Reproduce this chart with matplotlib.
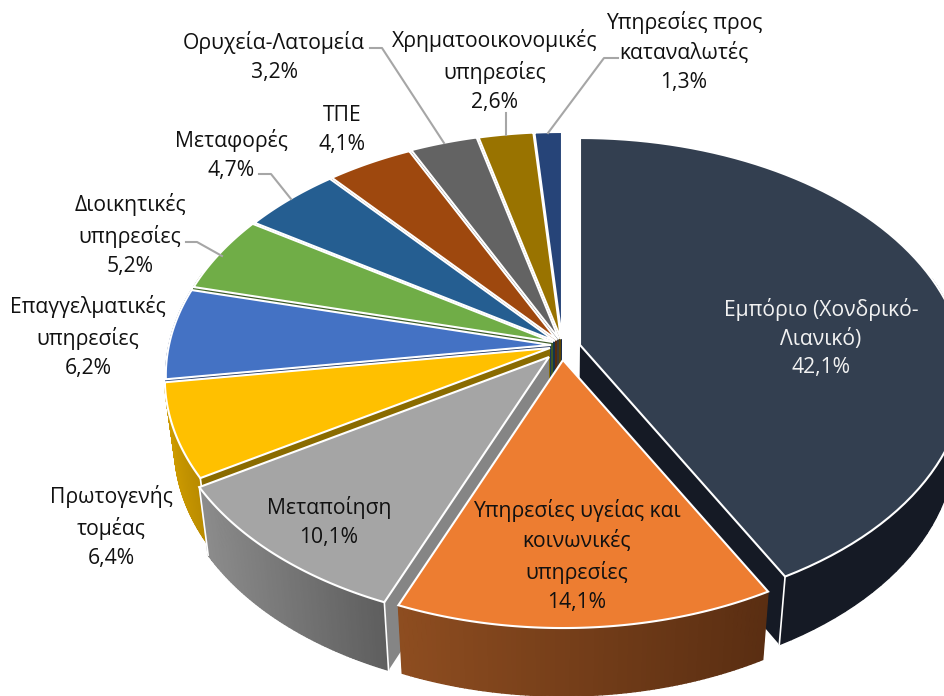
import numpy as np
import matplotlib
matplotlib.use("Agg")
import matplotlib.pyplot as plt
from matplotlib.colors import to_rgb

# data
names = ["Εμπόριο (Χονδρικό-\nΛιανικό)", "Υπηρεσίες υγείας και\nκοινωνικές\nυπηρεσίες", "Μεταποίηση",
         "Πρωτογενής\nτομέας", "Επαγγελματικές\nυπηρεσίες", "Διοικητικές\nυπηρεσίες", "Μεταφορές",
         "ΤΠΕ", "Ορυχεία-Λατομεία", "Χρηματοοικονομικές\nυπηρεσίες", "Υπηρεσίες προς\nκαταναλωτές"]
values = [42.1, 14.1, 10.1, 6.4, 6.2, 5.2, 4.7, 4.1, 3.2, 2.6, 1.3]
value_labels = ["42,1%", "14,1%", "10,1%", "6,4%", "6,2%", "5,2%", "4,7%", "4,1%", "3,2%", "2,6%", "1,3%"]

top_colors = ["#333F50", "#ED7D31", "#A5A5A5", "#FFC000", "#4472C4", "#70AD47",
              "#255E91", "#9E480E", "#636363", "#997300", "#264478"]
wall_left = ["#151A25", "#8E4D20", "#8C8C8C", "#CC9A00", "#2C4A80", "#4A7030",
             "#183D60", "#5E2A08", "#3C3C3C", "#5C4500", "#16284A"]
wall_right = ["#151A25", "#5A2E12", "#5E5E5E", "#B88A00", "#2C4A80", "#4A7030",
              "#183D60", "#5E2A08", "#3C3C3C", "#5C4500", "#16284A"]
side_colors = ["#151A25", "#5A2E12", "#858585", "#8A6B00", "#1E3560", "#3B5A26",
               "#16324E", "#5A2C0C", "#3A3A3A", "#5C4500", "#16284A"]
# shift of each slice's tip in pixels
shifts = [(27, 3), (10, 18), (-4, 15), (-3, 6), (-2, 3), (0, 0),
          (2, -1), (4, -2), (6, -3), (8, -3), (9, -3)]
label_pos = [(821, 338), (577, 556), (329, 522), (111, 527), (88, 337), (130, 235),
             (231, 155), (342, 130), (274, 57), (495, 71), (684, 52)]
label_colors = ["#F2F2F2"] + ["#111111"] * 10

CX, CY = 553, 342
RX, RY, K = 382, 233.6, 0.1285
DEPTH, SHRINK = 68, 0.975

plt.rcParams["font.family"] = ["Open Sans", "DejaVu Sans"]


def project(angle, dx, dy, radius=1.0):
    # angle in degrees, clockwise from 12 o'clock
    a = np.radians(angle)
    u = radius * np.sin(a)
    v = radius * np.cos(a)
    w = 1 + K * v
    return CX + dx + RX * u / w, CY + dy - RY * v / w


def lower(x, y):
    return CX + SHRINK * (np.asarray(x) - CX), np.asarray(y) + DEPTH


def mix(c1, c2, t):
    a, b = np.array(to_rgb(c1)), np.array(to_rgb(c2))
    return tuple(a + (b - a) * t)


fig = plt.figure(figsize=(9.44, 6.96), dpi=100)
ax = fig.add_axes([0, 0, 1, 1])
ax.set_xlim(0, 944)
ax.set_ylim(696, 0)
ax.axis("off")

edges = np.concatenate([[0], np.cumsum(values) / np.sum(values) * 360])
draw_order = [10, 9, 8, 7, 6, 5, 4, 3, 2, 0, 1]
white_corners = {(0, -1), (2, 0), (2, -1), (3, 0)}

for i in draw_order:
    dx, dy = shifts[i]
    th = np.linspace(edges[i], edges[i + 1], 80)
    rx, ry = project(th, dx, dy)
    ax_, ay_ = CX + dx, CY + dy
    lrx, lry = lower(rx, ry)
    lax, lay = lower(ax_, ay_)

    # inner walls (the first slice's start wall faces away)
    for k in (0, -1):
        if (i, k) == (0, 0):
            continue
        ax.fill([ax_, rx[k], lrx[k], lax], [ay_, ry[k], lry[k], lay],
                color=side_colors[i], lw=0, zorder=1)
    # outer wall, split in strips for the gradient, back part is hidden anyway
    xmin, xmax = rx.min(), rx.max()
    for j in range(len(th) - 1):
        if np.cos(np.radians(th[j])) > 0.3:
            continue
        t = (rx[j] - xmin) / max(xmax - xmin, 1)
        c = mix(wall_left[i], wall_right[i], t)
        ax.fill([rx[j], rx[j + 1], lrx[j + 1], lrx[j]], [ry[j], ry[j + 1], lry[j + 1], lry[j]],
                color=c, lw=1.0, zorder=1)
    # white corners
    for k in (0, -1):
        if (i, k) in white_corners:
            ax.plot([rx[k], lrx[k]], [ry[k], lry[k]], color="white", lw=1.2, zorder=1)
    # top face
    ax.fill(np.r_[ax_, rx], np.r_[ay_, ry], facecolor=top_colors[i],
            edgecolor="white", lw=1.5, joinstyle="miter", zorder=1)

# leader lines
leaders = [([370, 382, 444], [48, 48, 143]),
           ([506, 506], [113, 135]),
           ([618, 604, 548], [58, 58, 133]),
           ([259, 271, 291], [174, 174, 199]),
           ([186, 197, 222], [242, 242, 256])]
for lx, ly in leaders:
    ax.plot(lx, ly, color="#A6A6A6", lw=1.5, zorder=2)

for name, val, pos, col in zip(names, value_labels, label_pos, label_colors):
    ax.text(pos[0], pos[1], name + "\n" + val, color=col, fontsize=15.2, ha="center", va="center",
            linespacing=1.48, zorder=3)

fig.savefig("out.png", dpi=100)
